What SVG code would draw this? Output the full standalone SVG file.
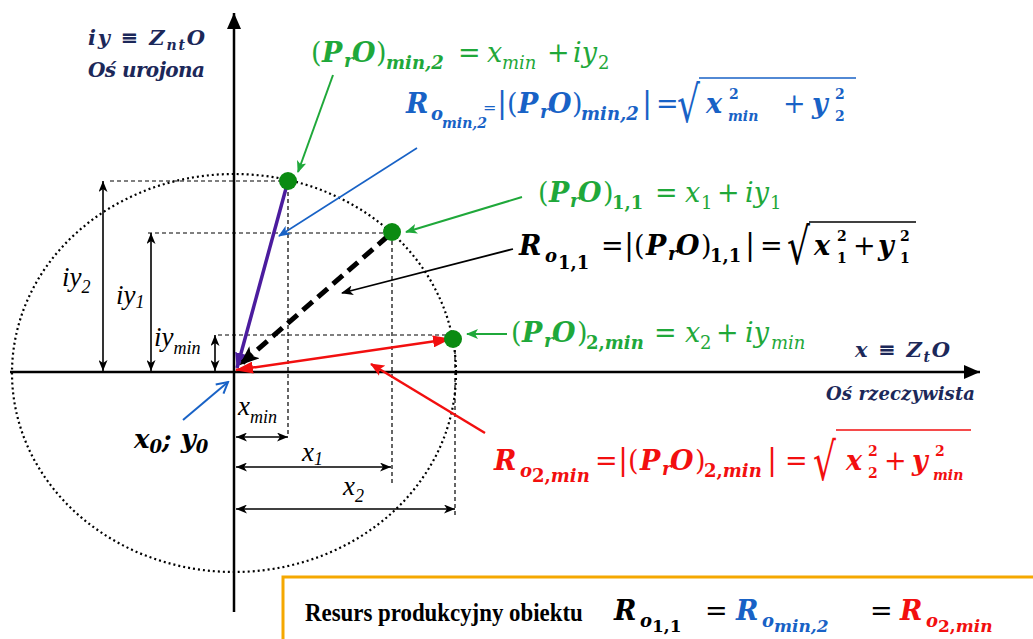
<svg xmlns="http://www.w3.org/2000/svg" width="1033" height="639" viewBox="0 0 1033 639">
<style>
.f{font-family:"DejaVu Serif","Liberation Serif",serif;font-size:27px}
.bi{font-weight:bold;font-style:italic}
.b{font-weight:bold}
.it{font-style:italic}
.s{font-size:18px}
.ss{font-size:14px}
.bar{font-size:30px}
.lab{font-family:"Liberation Serif",serif;font-style:italic;font-size:27px;fill:#000}
.labs{font-size:18px}
.nav{font-family:"DejaVu Serif","Liberation Serif",serif;font-weight:bold;font-style:italic;font-size:21px;fill:#1C2859}
.g{fill:#1FA83A}.bl{fill:#1862C6}.r{fill:#F20F0F}.k{fill:#000}
.guide{stroke:#000;stroke-width:1.2;stroke-dasharray:4 3;fill:none}
.dim{stroke:#000;stroke-width:1.6;fill:none;marker-start:url(#dh);marker-end:url(#dh)}
.ov{stroke-width:1.6}
.rad{font-family:"DejaVu Sans",sans-serif;font-size:36px}
</style>
<defs>
<marker id="axh" markerUnits="userSpaceOnUse" markerWidth="18" markerHeight="14" refX="16" refY="7" orient="auto"><path d="M0,0 L16,7 L0,14 Z" fill="#000"/></marker>
<marker id="dh" markerUnits="userSpaceOnUse" markerWidth="11" markerHeight="9" refX="11" refY="4.5" orient="auto-start-reverse"><path d="M0,0 L11,4.5 L0,9 L3,4.5 Z" fill="#000"/></marker>
<marker id="hp" markerUnits="userSpaceOnUse" markerWidth="16" markerHeight="12" refX="15" refY="6" orient="auto"><path d="M0,0 L16,6 L0,12 Z" fill="#4B1C9E"/></marker>
<marker id="hk" markerUnits="userSpaceOnUse" markerWidth="20" markerHeight="16" refX="18" refY="8" orient="auto"><path d="M0,0 L20,8 L0,16 L5,8 Z" fill="#000"/></marker>
<marker id="hr" markerUnits="userSpaceOnUse" markerWidth="18" markerHeight="12" refX="17" refY="6" orient="auto-start-reverse"><path d="M0,0 L18,6 L0,12 Z" fill="#F20F0F"/></marker>
<marker id="pg" markerUnits="userSpaceOnUse" markerWidth="12" markerHeight="10" refX="11" refY="5" orient="auto"><path d="M0,0 L12,5 L0,10 L3,5 Z" fill="#1FA83A"/></marker>
<marker id="pb" markerUnits="userSpaceOnUse" markerWidth="12" markerHeight="10" refX="11" refY="5" orient="auto"><path d="M0,0 L12,5 L0,10 L3,5 Z" fill="#1862C6"/></marker>
<marker id="pbo" markerUnits="userSpaceOnUse" markerWidth="14" markerHeight="14" refX="12" refY="7" orient="auto"><path d="M1,1 L12,7 L1,13" fill="none" stroke="#1862C6" stroke-width="2"/></marker>
<marker id="pk" markerUnits="userSpaceOnUse" markerWidth="12" markerHeight="10" refX="11" refY="5" orient="auto"><path d="M0,0 L12,5 L0,10 L3,5 Z" fill="#000"/></marker>
<marker id="pr" markerUnits="userSpaceOnUse" markerWidth="14" markerHeight="12" refX="13" refY="6" orient="auto"><path d="M0,0 L14,6 L0,12 L3,6 Z" fill="#F20F0F"/></marker>
</defs>

<g id="ellipse">
<ellipse cx="234" cy="373" rx="222" ry="199" fill="none" stroke="#000" stroke-width="2.2" stroke-dasharray="2 3"/>
</g>

<g id="guides">
<path class="guide" d="M110,181 H288 V437"/>
<path class="guide" d="M148,233 H392 V483"/>
<path class="guide" d="M218,335 H455 V517"/>
</g>

<g id="axes">
<line x1="234" y1="612" x2="234" y2="13" stroke="#000" stroke-width="2.5" marker-end="url(#axh)"/>
<line x1="10" y1="372" x2="980" y2="372" stroke="#000" stroke-width="2.5" marker-end="url(#axh)"/>
</g>

<g id="dimensions">
<line class="dim" x1="103" y1="181" x2="103" y2="371"/>
<line class="dim" x1="151" y1="233" x2="151" y2="371"/>
<line class="dim" x1="215" y1="335" x2="215" y2="371"/>
<line class="dim" x1="236" y1="437" x2="288" y2="437"/>
<line class="dim" x1="236" y1="467" x2="391" y2="467"/>
<line class="dim" x1="236" y1="509" x2="455" y2="509"/>
</g>

<g id="connectors">
<line x1="288" y1="181" x2="237" y2="368" stroke="#4B1C9E" stroke-width="3.5" marker-end="url(#hp)"/>
<line x1="388" y1="236" x2="241" y2="364" stroke="#000" stroke-width="5" stroke-dasharray="13 7" marker-end="url(#hk)"/>
<line x1="236" y1="370" x2="450" y2="339" stroke="#F20F0F" stroke-width="2.5" marker-start="url(#hr)" marker-end="url(#hr)"/>
<line x1="333" y1="75" x2="298" y2="172" stroke="#1FA83A" stroke-width="2" marker-end="url(#pg)"/>
<line x1="417" y1="148" x2="279" y2="236" stroke="#1862C6" stroke-width="1.6" marker-end="url(#pb)"/>
<line x1="522" y1="197" x2="406" y2="232" stroke="#1FA83A" stroke-width="2" marker-end="url(#pg)"/>
<line x1="513" y1="249" x2="342" y2="293" stroke="#000" stroke-width="1.8" marker-end="url(#pk)"/>
<line x1="507" y1="334" x2="467" y2="334" stroke="#1FA83A" stroke-width="2" marker-end="url(#pg)"/>
<line x1="485" y1="433" x2="371" y2="364" stroke="#F20F0F" stroke-width="2.5" marker-end="url(#pr)"/>
<line x1="183" y1="420" x2="228" y2="382" stroke="#1862C6" stroke-width="2" marker-end="url(#pbo)"/>
</g>

<g id="points" fill="#0B8B12">
<circle cx="288" cy="181" r="9"/>
<circle cx="392" cy="232" r="9"/>
<circle cx="453" cy="339" r="9"/>
</g>

<g id="axis-labels">
<text class="nav" x="88" y="45" textLength="117">iy ≡ Z<tspan class="ss" dy="5">nt</tspan><tspan dy="-5">O</tspan></text>
<text class="nav" x="88" y="77" textLength="117" style="font-size:20px">Oś urojona</text>
<text class="nav" x="855" y="357" textLength="95">x ≡ Z<tspan class="ss" dy="5">t</tspan><tspan dy="-5">O</tspan></text>
<text class="nav" x="826" y="400" textLength="149" style="font-size:18px">Oś rzeczywista</text>
</g>

<g id="dim-labels">
<text class="lab" x="62" y="286">iy<tspan class="labs" dy="7">2</tspan></text>
<text class="lab" x="116" y="304">iy<tspan class="labs" dy="4">1</tspan></text>
<text class="lab" x="154" y="346">iy<tspan class="labs" dy="8">min</tspan></text>
<text class="lab" x="238" y="415">x<tspan class="labs" dy="8">min</tspan></text>
<text class="lab" x="302" y="461">x<tspan class="labs" dy="4">1</tspan></text>
<text class="lab" x="343" y="495">x<tspan class="labs" dy="7">2</tspan></text>
<text class="f bi" x="134" y="448" style="font-size:26px">x<tspan class="s" dy="5">0</tspan><tspan dy="-5">; y</tspan><tspan class="s" dy="5">0</tspan></text>
</g>

<g id="f1" class="f g">
<text y="62"><tspan x="311">(</tspan><tspan x="322" class="bi">P</tspan><tspan x="344" y="67" class="bi s">r</tspan><tspan x="352" y="62" class="bi">O</tspan><tspan x="376">)</tspan><tspan x="386" y="69" class="bi s">min,2</tspan><tspan x="458" y="62">=</tspan><tspan x="487" class="it">x</tspan><tspan x="502" y="69" class="it s">min</tspan><tspan x="547" y="62">+</tspan><tspan x="573" class="it">iy</tspan><tspan x="598" y="69" class="s">2</tspan></text>
</g>

<g id="f2" class="f bl">
<text y="113"><tspan x="406" class="bi">R</tspan><tspan x="431" y="120" class="bi s">o</tspan><tspan x="442" y="128" class="bi ss">min,2</tspan><tspan x="483" y="113" style="font-size:16px">=</tspan><tspan x="497" class="bar">|</tspan><tspan x="507">(</tspan><tspan x="518" class="bi">P</tspan><tspan x="540" y="118" class="bi s">r</tspan><tspan x="548" y="113" class="bi">O</tspan><tspan x="572">)</tspan><tspan x="581" y="120" class="bi s">min,2</tspan><tspan x="642" y="113" class="bar">|</tspan><tspan x="656">=</tspan><tspan x="706" class="bi">x</tspan><tspan x="729" y="99" class="b ss">2</tspan><tspan x="728" y="121" class="bi ss">min</tspan><tspan x="783" y="113">+</tspan><tspan x="812" class="bi">y</tspan><tspan x="835" y="99" class="b ss">2</tspan><tspan x="835" y="121" class="b ss">2</tspan></text>
<text class="rad" transform="translate(677,122) scale(1,1.4)">√</text>
<line x1="699" y1="78" x2="856" y2="78" stroke="#1862C6" class="ov"/>
</g>

<g id="f3" class="f g">
<text y="202"><tspan x="538">(</tspan><tspan x="549" class="bi">P</tspan><tspan x="570" y="207" class="bi s">r</tspan><tspan x="578" y="202" class="bi">O</tspan><tspan x="603">)</tspan><tspan x="612" y="209" class="b s">1,1</tspan><tspan x="655" y="202">=</tspan><tspan x="685" class="it">x</tspan><tspan x="701" y="209" class="s">1</tspan><tspan x="717" y="202">+</tspan><tspan x="745" class="it">iy</tspan><tspan x="770" y="209" class="s">1</tspan></text>
</g>

<g id="f4" class="f k">
<text y="255"><tspan x="519" class="bi">R</tspan><tspan x="545" y="262" class="bi s">o</tspan><tspan x="558" y="269" class="b s">1,1</tspan><tspan x="601" y="255">=</tspan><tspan x="624" class="bar">|</tspan><tspan x="634">(</tspan><tspan x="646" class="bi">P</tspan><tspan x="668" y="260" class="bi s">r</tspan><tspan x="676" y="255" class="bi">O</tspan><tspan x="701">)</tspan><tspan x="710" y="262" class="b s">1,1</tspan><tspan x="745" y="255" class="bar">|</tspan><tspan x="760">=</tspan><tspan x="814" class="bi">x</tspan><tspan x="837" y="241" class="b ss">2</tspan><tspan x="837" y="263" class="b ss">1</tspan><tspan x="853" y="255">+</tspan><tspan x="878" class="bi">y</tspan><tspan x="900" y="241" class="b ss">2</tspan><tspan x="900" y="263" class="b ss">1</tspan></text>
<text class="rad" transform="translate(787,264) scale(1,1.4)">√</text>
<line x1="809" y1="222" x2="916" y2="222" stroke="#000" class="ov"/>
</g>

<g id="f5" class="f g">
<text y="342"><tspan x="511">(</tspan><tspan x="522" class="bi">P</tspan><tspan x="544" y="347" class="bi s">r</tspan><tspan x="552" y="342" class="bi">O</tspan><tspan x="577">)</tspan><tspan x="586" y="349" class="b s">2,<tspan class="bi">min</tspan></tspan><tspan x="654" y="342">=</tspan><tspan x="685" class="it">x</tspan><tspan x="700" y="349" class="s">2</tspan><tspan x="716" y="342">+</tspan><tspan x="745" class="it">iy</tspan><tspan x="771" y="349" class="it s">min</tspan></text>
</g>

<g id="f6" class="f r">
<text y="470"><tspan x="494" class="bi">R</tspan><tspan x="520" y="477" class="bi s">o</tspan><tspan x="532" y="482" class="b s">2,<tspan class="bi">min</tspan></tspan><tspan x="595" y="470">=</tspan><tspan x="618" class="bar">|</tspan><tspan x="628">(</tspan><tspan x="640" class="bi">P</tspan><tspan x="662" y="475" class="bi s">r</tspan><tspan x="670" y="470" class="bi">O</tspan><tspan x="695">)</tspan><tspan x="704" y="477" class="b s">2,<tspan class="bi">min</tspan></tspan><tspan x="767" y="470" class="bar">|</tspan><tspan x="785">=</tspan><tspan x="846" class="bi">x</tspan><tspan x="868" y="456" class="b ss">2</tspan><tspan x="868" y="478" class="b ss">2</tspan><tspan x="884" y="470">+</tspan><tspan x="912" class="bi">y</tspan><tspan x="935" y="456" class="b ss">2</tspan><tspan x="933" y="480" class="bi ss">min</tspan></text>
<text class="rad" transform="translate(813,480) scale(1,1.45)">√</text>
<line x1="836" y1="430" x2="971" y2="430" stroke="#F20F0F" class="ov"/>
</g>

<g id="result-box">
<rect x="283" y="577" width="770" height="80" fill="#fff" stroke="#F5A800" stroke-width="3"/>
<text transform="translate(305,621) scale(0.88,1)" style="font-family:'Liberation Serif',serif;font-weight:bold;font-size:26px" fill="#000">Resurs produkcyjny obiektu</text>
<text class="f" y="620"><tspan x="614" class="bi k">R</tspan><tspan x="640" y="627" class="bi s k">o</tspan><tspan x="652" y="632" class="b k" style="font-size:17px">1,1</tspan><tspan x="705" y="620" class="k">=</tspan><tspan x="736" class="bi bl">R</tspan><tspan x="762" y="627" class="bi s bl">o</tspan><tspan x="774" y="632" class="bi bl" style="font-size:17px">min,2</tspan><tspan x="870" y="620" class="k">=</tspan><tspan x="900" class="bi r">R</tspan><tspan x="926" y="627" class="bi s r">o</tspan><tspan x="938" y="632" class="b r" style="font-size:17px">2,<tspan class="bi">min</tspan></tspan></text>
</g>
</svg>
